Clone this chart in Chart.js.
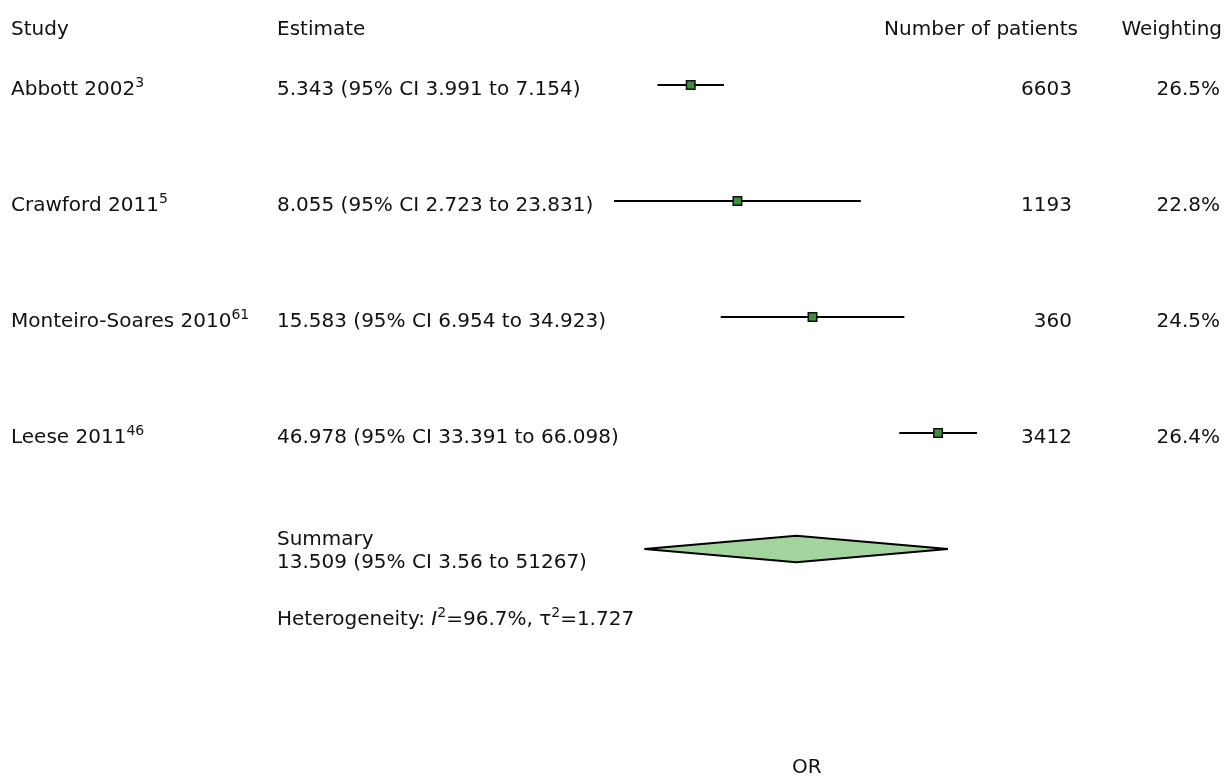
<!DOCTYPE html>
<html lang="en">
<head>
<meta charset="UTF-8">
<title>Forest plot</title>
<script src="https://cdn.jsdelivr.net/npm/chart.js"></script>
<style>
  html, body { margin: 0; padding: 0; background: #fff; }
  #wrap { width: 1227px; height: 780px; }
</style>
</head>
<body>
<div id="wrap"><canvas id="forest"></canvas></div>
<script>
  // data
  const studies = ["Abbott 2002", "Crawford 2011", "Monteiro-Soares 2010", "Leese 2011"];
  const refs = ["3", "5", "61", "46"];
  const estimates = [5.343, 8.055, 15.583, 46.978];
  const lower = [3.991, 2.723, 6.954, 33.391];
  const upper = [7.154, 23.831, 34.923, 66.098];
  const patients = [6603, 1193, 360, 3412];
  const weights = ["26.5%", "22.8%", "24.5%", "26.4%"];
  const rows = [1, 2, 3, 4];

  const summaryRow = 5;
  const summaryEst = 13.509;
  const summaryLow = 3.56;
  const summaryHigh = 51.267;
  const summaryText = "13.509 (95% CI 3.56 to 51267)";
  const i2Text = "96.7%";
  const tau2Text = "1.727";

  const FONT = '"DejaVu Sans", sans-serif';
  const INK = "#111";

  // one line dataset per confidence interval
  const whiskers = rows.map((r, i) => ({
    data: [{ x: lower[i], y: r }, { x: upper[i], y: r }],
    showLine: true,
    borderColor: "#000",
    borderWidth: 2,
    pointRadius: 0,
    order: 3
  }));

  const squares = {
    data: rows.map((r, i) => ({ x: estimates[i], y: r })),
    pointStyle: "rect",
    pointRadius: 6,
    backgroundColor: "#3e8e3e",
    borderColor: "#111",
    borderWidth: 1.5,
    showLine: false,
    order: 0
  };

  const diamondHalf = 0.115;
  const diamondTop = {
    data: [
      { x: summaryLow, y: summaryRow },
      { x: summaryEst, y: summaryRow - diamondHalf },
      { x: summaryHigh, y: summaryRow }
    ],
    showLine: true,
    fill: "+1",
    backgroundColor: "#a2d49d",
    borderColor: "#000",
    borderWidth: 2,
    pointRadius: 0,
    order: 2
  };
  const diamondBottom = {
    data: [
      { x: summaryLow, y: summaryRow },
      { x: summaryEst, y: summaryRow + diamondHalf },
      { x: summaryHigh, y: summaryRow }
    ],
    showLine: true,
    fill: false,
    borderColor: "#000",
    borderWidth: 2,
    pointRadius: 0,
    order: 1
  };

  // draws a run of text pieces, some superscript or italic
  function drawRich(ctx, parts, x, y, align) {
    const fontOf = p => (p.italic ? "italic " : "") + (p.sup ? "14px " : "20px ") + FONT;
    let total = 0;
    parts.forEach(p => {
      ctx.font = fontOf(p);
      p.w = ctx.measureText(p.text).width;
      total += p.w;
    });
    let cx = align === "right" ? x - total : x;
    parts.forEach(p => {
      ctx.font = fontOf(p);
      ctx.fillText(p.text, cx, p.sup ? y - 8 : y);
      cx += p.w;
    });
  }

  const tablePlugin = {
    id: "table",
    afterDraw(chart) {
      const ctx = chart.ctx;
      const yScale = chart.scales.y;
      ctx.save();
      ctx.fillStyle = INK;
      ctx.textBaseline = "alphabetic";
      ctx.textAlign = "left";

      // header
      drawRich(ctx, [{ text: "Study" }], 11, 35);
      drawRich(ctx, [{ text: "Estimate" }], 277, 35);
      drawRich(ctx, [{ text: "Number of patients" }], 1078, 35, "right");
      drawRich(ctx, [{ text: "Weighting" }], 1222, 35, "right");

      rows.forEach((r, i) => {
        const y = yScale.getPixelForValue(r) + 10;
        drawRich(ctx, [{ text: studies[i] }, { text: refs[i], sup: true }], 11, y);
        const est = estimates[i].toFixed(3) + " (95% CI " + lower[i].toFixed(3) + " to " + upper[i].toFixed(3) + ")";
        drawRich(ctx, [{ text: est }], 277, y);
        drawRich(ctx, [{ text: String(patients[i]) }], 1072, y, "right");
        drawRich(ctx, [{ text: weights[i] }], 1220, y, "right");
      });

      const sy = yScale.getPixelForValue(summaryRow);
      drawRich(ctx, [{ text: "Summary" }], 277, sy - 4);
      drawRich(ctx, [{ text: summaryText }], 277, sy + 19);
      drawRich(ctx, [
        { text: "Heterogeneity: " },
        { text: "I", italic: true },
        { text: "2", sup: true },
        { text: "=" + i2Text + ", \u03c4" },
        { text: "2", sup: true },
        { text: "=" + tau2Text }
      ], 277, sy + 76);
      ctx.restore();
    }
  };

  new Chart(document.getElementById("forest"), {
    type: "scatter",
    data: { datasets: [squares, diamondTop, diamondBottom, ...whiskers] },
    options: {
      responsive: true,
      maintainAspectRatio: false,
      animation: false,
      layout: { padding: { left: 578.9, right: 1227 - 1034.9, top: 27, bottom: 0 } },
      plugins: {
        legend: { display: false },
        tooltip: { enabled: false }
      },
      scales: {
        x: {
          type: "logarithmic",
          min: 2,
          max: 110,
          ticks: { display: false },
          grid: { display: false, drawTicks: false },
          border: { display: false },
          title: {
            display: true,
            text: "OR",
            color: INK,
            font: { family: FONT, size: 20 },
            padding: { top: 4, bottom: 0 }
          }
        },
        y: {
          display: false,
          reverse: true,
          min: 0.5,
          max: 6.75
        }
      }
    },
    plugins: [tablePlugin]
  });
</script>
</body>
</html>
